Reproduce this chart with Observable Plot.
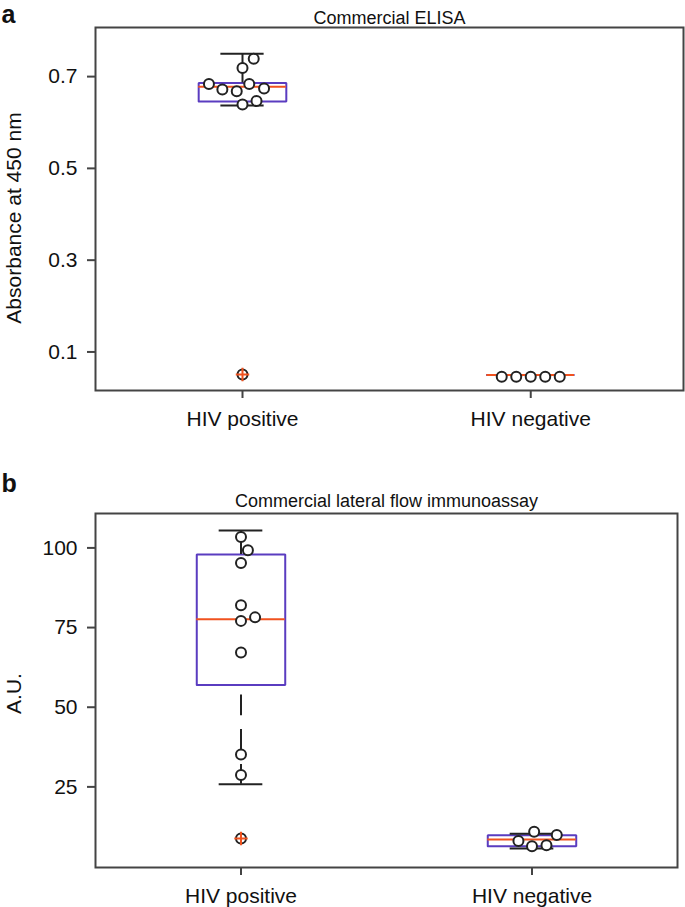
<!DOCTYPE html>
<html><head><meta charset="utf-8">
<script src="https://cdn.jsdelivr.net/npm/d3@7"></script>
<script src="https://cdn.jsdelivr.net/npm/@observablehq/plot@0.6"></script>
<style>body{margin:0;background:#fff} #chart svg{display:block}</style>
</head><body><div id="chart"></div>
<script>
// ---------- data ----------
const categories = ["HIV positive", "HIV negative"];

// panel a
const aTitle = "Commercial ELISA";
const aYLabel = "Absorbance at 450 nm";
const aTicks = [0.1, 0.3, 0.5, 0.7];
const aPositive = [0.739, 0.719, 0.684, 0.684, 0.674, 0.672, 0.668, 0.647, 0.639, 0.051];
const aNegative = [0.046, 0.046, 0.046, 0.046, 0.046];
// box stats: [whisker low, q1, median, q3, whisker high]
const aPositiveBox = [0.637, 0.646, 0.678, 0.686, 0.750];
const aNegativeBox = [0.050, 0.050, 0.050, 0.050, 0.050];
const aPositiveFliers = [0.051];
const aNegativeFliers = [];

// panel b
const bTitle = "Commercial lateral flow immunoassay";
const bYLabel = "A.U.";
const bTicks = [25, 50, 75, 100];
const bPositive = [103.4, 99.3, 95.3, 82.0, 78.2, 77.1, 67.2, 35.2, 28.7, 8.8];
const bNegative = [10.9, 9.9, 8.0, 6.7, 6.4];
const bPositiveBox = [25.8, 57.0, 77.6, 97.9, 105.5];
const bNegativeBox = [5.7, 6.4, 8.5, 9.8, 10.3];
const bPositiveFliers = [8.8];
const bNegativeFliers = [];
// visible pieces of the broken lower whisker of the HIV-positive box
const bPositiveLowWhisker = [[53.8, 47.3], [43.0, 34.5], [32.0, 25.8]];

// ---------- style ----------
const FONT = "'Liberation Sans', Arial, Helvetica, sans-serif";
const W = 685;
const PURPLE = "#5a3cc0", RED = "#f0521f", INK = "#222", FRAME = "#444";
const BW = 0.152, CW = 0.075, SWARM_D = 14.5;

function panel(cfg) {
  const {height, mt, mb, ml, mr, xDomain, yDomain, ticks, tickFormat, groups,
         title, ylabel, letter, titleDy, letterDy, ylabelDy} = cfg;
  const yPx = d3.scaleLinear(yDomain, [height - mb, mt]);
  const pxPerX = (W - ml - mr) / (xDomain[1] - xDomain[0]);

  const boxes = groups.map((g, i) => ({g: i + 1, lo: g.box[0], q1: g.box[1], med: g.box[2], q3: g.box[3], hi: g.box[4]}));
  const outline = boxes.flatMap(b =>
    [[-BW, b.q1], [BW, b.q1], [BW, b.q3], [-BW, b.q3], [-BW, b.q1]].map(([o, y]) => ({x: b.g + o, y, g: b.g})));
  const lowSegs = groups.flatMap((g, i) =>
    (g.lowSegs || [[g.box[1], g.box[0]]]).map(([y1, y2]) => ({g: i + 1, y1, y2})));
  const fliers = groups.flatMap((g, i) => g.fliers.map(v => ({g: i + 1, v})));

  // beeswarm placement (in pixels) around each category centre
  function swarm(values, center) {
    const pts = values.map(v => ({v, py: yPx(v)})).sort((a, b) => b.py - a.py);
    const placed = [];
    for (const p of pts) {
      const nb = placed.filter(q => Math.abs(q.py - p.py) < SWARM_D);
      const cands = [0];
      for (const q of nb) {
        const dx = Math.sqrt(SWARM_D * SWARM_D - (p.py - q.py) ** 2);
        cands.push(q.ox + dx, q.ox - dx);
      }
      cands.sort((a, b) => Math.abs(a) - Math.abs(b));
      const ox = cands.find(c => nb.every(q => Math.hypot(c - q.ox, p.py - q.py) >= SWARM_D - 1e-6));
      placed.push({v: p.v, py: p.py, ox});
    }
    return placed.map(p => ({x: center + p.ox / pxPerX, y: p.v}));
  }
  const points = groups.flatMap((g, i) => swarm(g.values, i + 1));

  return Plot.plot({
    width: W, height,
    marginTop: mt, marginBottom: mb, marginLeft: ml, marginRight: mr,
    style: {fontFamily: FONT, fontSize: "21px", color: "#111", background: "white"},
    x: {type: "linear", domain: xDomain, axis: null},
    y: {type: "linear", domain: yDomain, axis: null},
    marks: [
      Plot.axisY({ticks, tickFormat, tickSize: 8, tickPadding: 10, stroke: FRAME, strokeWidth: 2,
                  fill: "#111", fontSize: 21, label: null}),
      Plot.axisX({ticks: [1, 2], tickFormat: i => categories[i - 1], tickSize: 8, tickPadding: 13,
                  stroke: FRAME, strokeWidth: 2, fill: "#111", fontSize: 21, label: null}),
      Plot.line(outline, {x: "x", y: "y", z: "g", stroke: PURPLE, strokeWidth: 2, strokeLinejoin: "miter"}),
      Plot.ruleX(boxes, {x: "g", y1: "q3", y2: "hi", stroke: INK, strokeWidth: 2}),
      Plot.ruleX(lowSegs, {x: "g", y1: "y1", y2: "y2", stroke: INK, strokeWidth: 2}),
      Plot.ruleY(boxes, {y: "hi", x1: d => d.g - CW, x2: d => d.g + CW, stroke: INK, strokeWidth: 2}),
      Plot.ruleY(boxes, {y: "lo", x1: d => d.g - CW, x2: d => d.g + CW, stroke: INK, strokeWidth: 2}),
      Plot.ruleY(boxes, {y: "med", x1: d => d.g - BW, x2: d => d.g + BW, stroke: RED, strokeWidth: 2}),
      Plot.dot(points, {x: "x", y: "y", r: 5, stroke: INK, strokeWidth: 2, fill: "white"}),
      Plot.dot(fliers, {x: "g", y: "v", symbol: "plus", r: 4.4, stroke: RED, strokeWidth: 2}),
      Plot.frame({stroke: FRAME, strokeWidth: 2}),
      Plot.text([title], {frameAnchor: "top", text: d => d, dy: titleDy, lineAnchor: "bottom",
                          fontSize: 18, fill: "#111"}),
      Plot.text([letter], {frameAnchor: "top-left", text: d => d, dx: -ml + 1, dy: letterDy, lineAnchor: "bottom",
                           textAnchor: "start", fontSize: 25, fontWeight: "bold", fill: "#111"}),
      Plot.text([ylabel], {frameAnchor: "left", text: d => d, rotate: -90, dx: -75, dy: ylabelDy,
                           lineAnchor: "bottom", textAnchor: "middle", fontSize: 21, fill: "#111"})
    ]
  });
}

const chart = document.getElementById("chart");
chart.append(panel({
  height: 453, mt: 27, mb: 63, ml: 95, mr: 2,
  xDomain: [0.49, 2.53], yDomain: [0.016, 0.807],
  ticks: aTicks, tickFormat: d3.format(".1f"),
  groups: [
    {values: aPositive, box: aPositiveBox, fliers: aPositiveFliers},
    {values: aNegative, box: aNegativeBox, fliers: aNegativeFliers}
  ],
  title: aTitle, ylabel: aYLabel, letter: "a", titleDy: -4, letterDy: -4.3, ylabelDy: 9
}));
chart.append(panel({
  height: 454, mt: 60, mb: 40, ml: 95, mr: 8,
  xDomain: [0.5, 2.5], yDomain: [-0.3, 110.8],
  ticks: bTicks, tickFormat: d3.format("d"),
  groups: [
    {values: bPositive, box: bPositiveBox, fliers: bPositiveFliers, lowSegs: bPositiveLowWhisker},
    {values: bNegative, box: bNegativeBox, fliers: bNegativeFliers}
  ],
  title: bTitle, ylabel: bYLabel, letter: "b", titleDy: -7, letterDy: -21.3, ylabelDy: 3
}));
</script>
</body></html>
